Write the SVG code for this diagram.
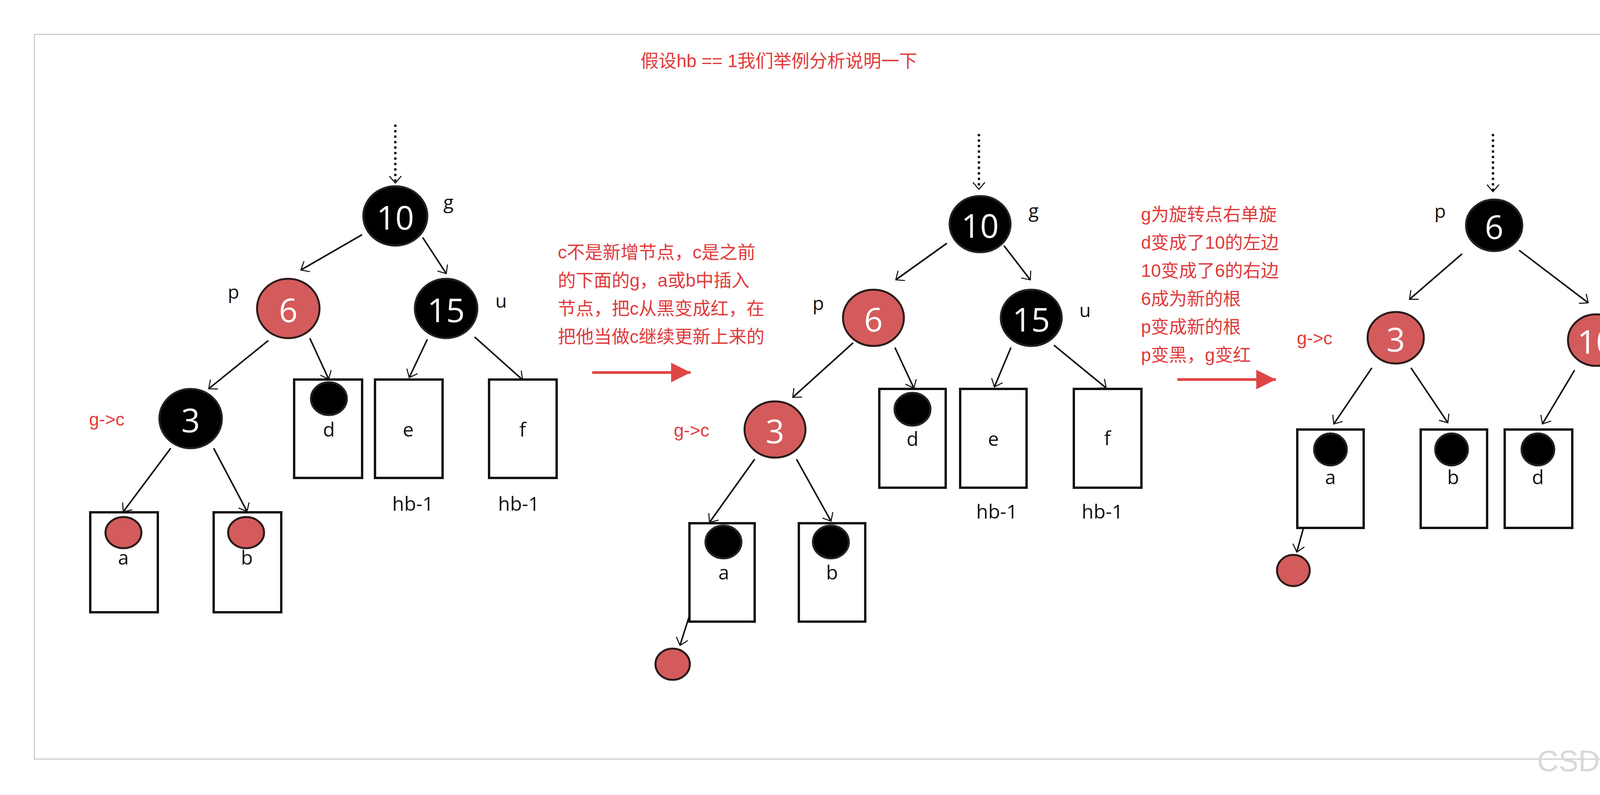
<svg xmlns="http://www.w3.org/2000/svg" width="4764" height="2036" viewBox="0 0 4764 2036">
<defs>
<marker id="ah" viewBox="0 0 10 10" refX="9" refY="5" markerWidth="9" markerHeight="9" markerUnits="userSpaceOnUse" orient="auto" overflow="visible">
<path d="M-10,-12 L10,5 L-10,22" fill="none" stroke="#111" stroke-width="3"/>
</marker>
<marker id="rh" viewBox="0 0 10 10" refX="10" refY="5" markerWidth="10" markerHeight="10" markerUnits="userSpaceOnUse" orient="auto" overflow="visible">
<path d="M-40,-20 L10,5 L-40,30 Z" fill="#e04545"/>
</marker>
<style>
.blk{fill:#000;stroke:#222;stroke-width:5}
.red{fill:#d45b5b;stroke:#2a1a1a;stroke-width:5}
.nt{font-family:"Open Sans","DejaVu Sans",sans-serif;font-size:84px;fill:#fff;text-anchor:middle;dominant-baseline:central}
.lb{font-family:"Open Sans","DejaVu Sans",sans-serif;font-size:48px;fill:#111}
.bx{fill:#fff;stroke:#111;stroke-width:6}
.bt{font-family:"Open Sans","DejaVu Sans",sans-serif;font-size:50px;fill:#111;text-anchor:middle}
.rt{font-family:"Liberation Sans","Noto Sans CJK SC",sans-serif;font-size:46px;fill:#e03a3a}
.e{stroke:#111;stroke-width:4;fill:none;marker-end:url(#ah)}
.dot{stroke:#111;stroke-width:6;stroke-dasharray:6 8;fill:none;marker-end:url(#ah)}
.ra{stroke:#e04545;stroke-width:7;fill:none;marker-end:url(#rh)}
</style>
</defs>
<rect x="0" y="0" width="4764" height="2036" fill="#fff"/>
<rect x="88" y="88" width="4585" height="1856" fill="#fff" stroke="#ccc" stroke-width="3"/>
<text class="rt" x="1640" y="172">假设hb == 1我们举例分析说明一下</text>

<g id="connectors">
<!-- tree 1 -->
<line class="dot" x1="1012" y1="319" x2="1012" y2="468"/>
<line class="e" x1="927" y1="601" x2="771" y2="691"/>
<line class="e" x1="1082" y1="608" x2="1142" y2="700"/>
<line class="e" x1="687" y1="872" x2="535" y2="995"/>
<line class="e" x1="793" y1="866" x2="841" y2="970"/>
<line class="e" x1="1094" y1="869" x2="1048" y2="966"/>
<line class="e" x1="1215" y1="863" x2="1337" y2="972"/>
<line class="e" x1="437" y1="1148" x2="316" y2="1310"/>
<line class="e" x1="547" y1="1148" x2="632" y2="1309"/>
<!-- tree 2 -->
<line class="dot" x1="2506" y1="343" x2="2506" y2="484"/>
<line class="e" x1="2424" y1="623" x2="2294" y2="716"/>
<line class="e" x1="2570" y1="629" x2="2637" y2="716"/>
<line class="e" x1="2184" y1="878" x2="2030" y2="1017"/>
<line class="e" x1="2291" y1="890" x2="2339" y2="993"/>
<line class="e" x1="2588" y1="890" x2="2546" y2="990"/>
<line class="e" x1="2698" y1="884" x2="2831" y2="993"/>
<line class="e" x1="1932" y1="1176" x2="1817" y2="1337"/>
<line class="e" x1="2039" y1="1176" x2="2127" y2="1334"/>
<line class="e" x1="1814" y1="1422" x2="1741" y2="1652"/>
<!-- tree 3 -->
<line class="dot" x1="3822" y1="343" x2="3822" y2="490"/>
<line class="e" x1="3743" y1="650" x2="3609" y2="766"/>
<line class="e" x1="3889" y1="641" x2="4065" y2="775"/>
<line class="e" x1="3512" y1="942" x2="3415" y2="1085"/>
<line class="e" x1="3612" y1="942" x2="3706" y2="1082"/>
<line class="e" x1="4031" y1="948" x2="3949" y2="1085"/>
<line class="e" x1="4156" y1="930" x2="4290" y2="1036"/>
<line class="e" x1="4247" y1="1203" x2="4208" y2="1297"/>
<line class="e" x1="4341" y1="1194" x2="4487" y2="1306"/>
<line class="e" x1="3379" y1="1200" x2="3320" y2="1413"/>
<!-- red arrows -->
<line class="ra" x1="1516" y1="954" x2="1768" y2="954"/>
<line class="ra" x1="3014" y1="972" x2="3266" y2="972"/>
</g>

<!-- Tree 1 -->
<g id="t1-n10"><ellipse class="blk" cx="1012" cy="553" rx="82" ry="76"/><text class="nt" x="1012" y="555">10</text><text class="lb" x="1135" y="535">g</text></g>
<g id="t1-n6"><ellipse class="red" cx="738" cy="790" rx="80" ry="76"/><text class="nt" x="738" y="792">6</text><text class="lb" x="583" y="765">p</text></g>
<g id="t1-n15"><ellipse class="blk" cx="1142" cy="790" rx="80" ry="76"/><text class="nt" x="1142" y="792">15</text><text class="lb" x="1268" y="788">u</text></g>
<g id="t1-n3"><ellipse class="blk" cx="488" cy="1072" rx="80" ry="76"/><text class="nt" x="488" y="1074">3</text><text class="rt" x="228" y="1090">g-&gt;c</text></g>
<g id="t1-d"><rect class="bx" x="753" y="972" width="174" height="252"/><ellipse class="blk" cx="842" cy="1021" rx="46" ry="42"/><text class="bt" x="842" y="1118">d</text></g>
<g id="t1-e"><rect class="bx" x="960" y="972" width="173" height="252"/><text class="bt" x="1045" y="1118">e</text><text class="bt" x="1057" y="1308">hb-1</text></g>
<g id="t1-f"><rect class="bx" x="1252" y="972" width="173" height="252"/><text class="bt" x="1338" y="1118">f</text><text class="bt" x="1328" y="1308">hb-1</text></g>
<g id="t1-a"><rect class="bx" x="231" y="1312" width="173" height="256"/><ellipse class="red" cx="316" cy="1364" rx="46" ry="40"/><text class="bt" x="316" y="1446">a</text></g>
<g id="t1-b"><rect class="bx" x="547" y="1312" width="173" height="256"/><ellipse class="red" cx="630" cy="1364" rx="46" ry="40"/><text class="bt" x="632" y="1446">b</text></g>

<text class="rt" x="1428" y="662">c不是新增节点，c是之前</text>
<text class="rt" x="1428" y="734">的下面的g，a或b中插入</text>
<text class="rt" x="1428" y="806">节点，把c从黑变成红，在</text>
<text class="rt" x="1428" y="878">把他当做c继续更新上来的</text>

<!-- Tree 2 -->
<g id="t2-n10"><ellipse class="blk" cx="2509" cy="574" rx="78" ry="72"/><text class="nt" x="2509" y="576">10</text><text class="lb" x="2633" y="557">g</text></g>
<g id="t2-n6"><ellipse class="red" cx="2236" cy="814" rx="78" ry="72"/><text class="nt" x="2236" y="816">6</text><text class="lb" x="2080" y="794">p</text></g>
<g id="t2-n15"><ellipse class="blk" cx="2640" cy="814" rx="78" ry="72"/><text class="nt" x="2640" y="816">15</text><text class="lb" x="2763" y="812">u</text></g>
<g id="t2-n3"><ellipse class="red" cx="1984" cy="1100" rx="78" ry="72"/><text class="nt" x="1984" y="1102">3</text><text class="rt" x="1725" y="1118">g-&gt;c</text></g>
<g id="t2-d"><rect class="bx" x="2251" y="996" width="170" height="253"/><ellipse class="blk" cx="2336" cy="1048" rx="46" ry="42"/><text class="bt" x="2336" y="1142">d</text></g>
<g id="t2-e"><rect class="bx" x="2458" y="996" width="170" height="253"/><text class="bt" x="2543" y="1142">e</text><text class="bt" x="2552" y="1328">hb-1</text></g>
<g id="t2-f"><rect class="bx" x="2749" y="996" width="173" height="253"/><text class="bt" x="2835" y="1140">f</text><text class="bt" x="2822" y="1328">hb-1</text></g>
<g id="t2-a"><rect class="bx" x="1765" y="1340" width="167" height="252"/><ellipse class="blk" cx="1814" cy="1388" rx="46" ry="42" transform="translate(38,0)"/><text class="bt" x="1853" y="1484">a</text></g>
<g id="t2-b"><rect class="bx" x="2045" y="1340" width="170" height="252"/><ellipse class="blk" cx="2127" cy="1388" rx="46" ry="42"/><text class="bt" x="2130" y="1484">b</text></g>
<g id="t2-new"><ellipse class="red" cx="1722" cy="1701" rx="44" ry="40"/></g>

<text class="rt" x="2921" y="565">g为旋转点右单旋</text>
<text class="rt" x="2921" y="637">d变成了10的左边</text>
<text class="rt" x="2921" y="709">10变成了6的右边</text>
<text class="rt" x="2921" y="781">6成为新的根</text>
<text class="rt" x="2921" y="853">p变成新的根</text>
<text class="rt" x="2921" y="925">p变黑，g变红</text>

<!-- Tree 3 -->
<g id="t3-n6"><ellipse class="blk" cx="3825" cy="577" rx="72" ry="66"/><text class="nt" x="3825" y="579">6</text><text class="lb" x="3672" y="558">p</text></g>
<g id="t3-n3"><ellipse class="red" cx="3573" cy="865" rx="72" ry="66"/><text class="nt" x="3573" y="867">3</text><text class="rt" x="3320" y="882">g-&gt;c</text></g>
<g id="t3-n10"><ellipse class="red" cx="4086" cy="871" rx="72" ry="66"/><text class="nt" x="4086" y="873">10</text><text class="lb" x="4198" y="862">g</text></g>
<g id="t3-n15"><ellipse class="blk" cx="4302" cy="1124" rx="72" ry="66"/><text class="nt" x="4302" y="1126">15</text><text class="lb" x="4428" y="1124">u</text></g>
<g id="t3-a"><rect class="bx" x="3321" y="1100" width="170" height="252"/><ellipse class="blk" cx="3406" cy="1151" rx="42" ry="41"/><text class="bt" x="3406" y="1240">a</text></g>
<g id="t3-b"><rect class="bx" x="3637" y="1100" width="170" height="252"/><ellipse class="blk" cx="3716" cy="1151" rx="42" ry="41"/><text class="bt" x="3720" y="1240">b</text></g>
<g id="t3-d"><rect class="bx" x="3852" y="1100" width="173" height="252"/><ellipse class="blk" cx="3937" cy="1151" rx="42" ry="41"/><text class="bt" x="3937" y="1240">d</text></g>
<g id="t3-e"><rect class="bx" x="4120" y="1306" width="170" height="252"/><text class="bt" x="4205" y="1450">e</text><text class="bt" x="4214" y="1628">hb-1</text></g>
<g id="t3-f"><rect class="bx" x="4411" y="1306" width="170" height="252"/><text class="bt" x="4496" y="1450">f</text><text class="bt" x="4484" y="1628">hb-1</text></g>
<g id="t3-new"><ellipse class="red" cx="3311" cy="1461" rx="42" ry="40"/></g>

<text x="3935" y="1975" font-family="'Liberation Sans','Noto Sans CJK SC',sans-serif" font-size="76" fill="#d8d8d8">CSDN @序属秋秋秋</text>
</svg>
